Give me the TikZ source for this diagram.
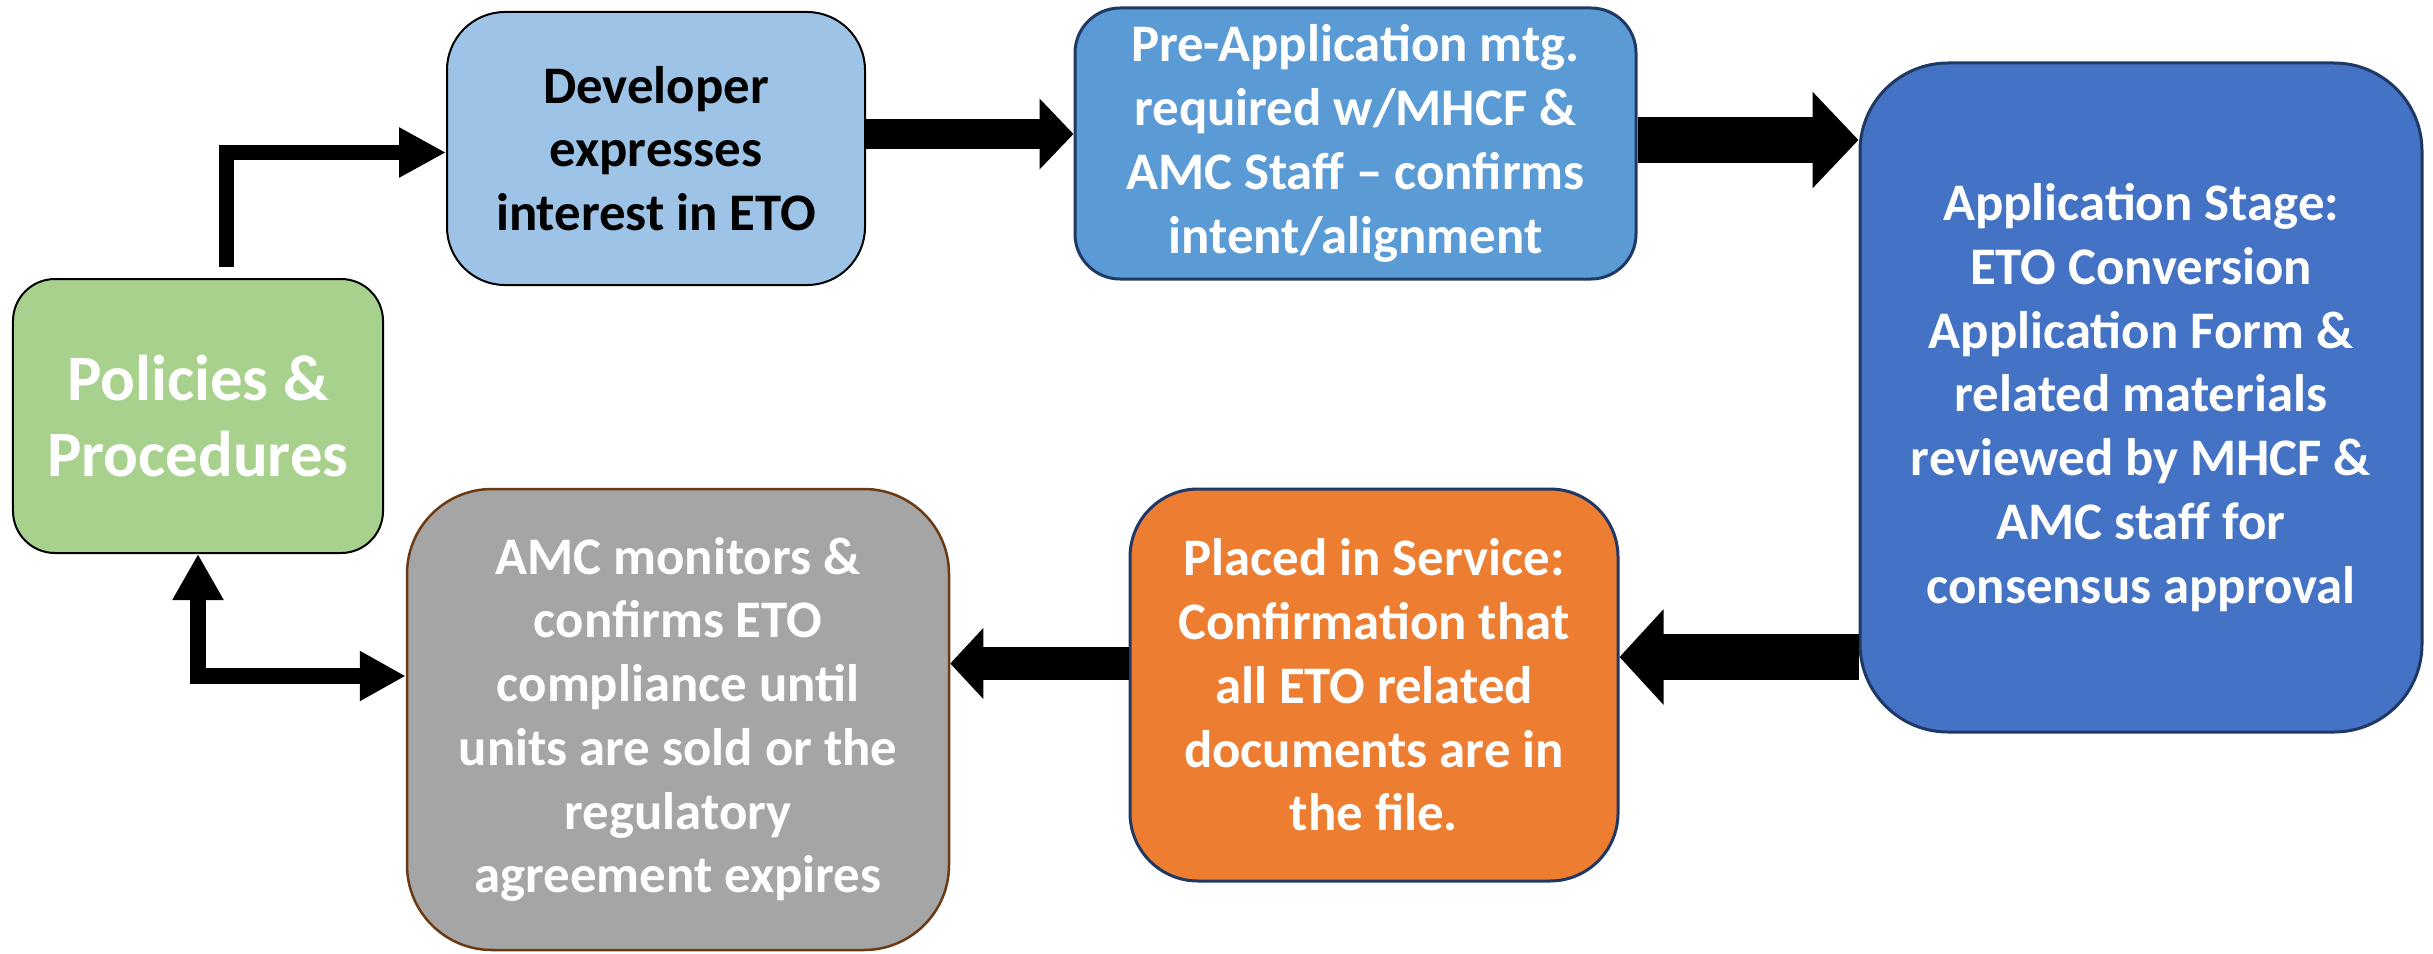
\documentclass[tikz,border=0pt]{standalone}
\usepackage{fontspec}
\setmainfont{Carlito}
\usetikzlibrary{arrows.meta,calc}
\definecolor{devfill}{HTML}{9DC3E6}
\definecolor{prefill}{HTML}{5B9BD5}
\definecolor{appfill}{HTML}{4472C4}
\definecolor{orfill}{HTML}{ED7D31}
\definecolor{grfill}{HTML}{A5A5A5}
\definecolor{gnfill}{HTML}{A9D18E}
\definecolor{navyline}{HTML}{203864}
\definecolor{brownline}{HTML}{6B3A12}
\begin{document}
\begin{tikzpicture}[x=1bp,y=-1bp,
  stage/.style={draw, align=center, inner sep=0pt, text=white,
    font=\bfseries\fontsize{53}{64}\selectfont},
  flow/.style={draw=black, line join=miter}]
\useasboundingbox (0,0) rectangle (2433,953);

\node[stage, fill=gnfill, draw=black, line width=2bp, rounded corners=42bp,
  minimum width=370bp, minimum height=274bp,
  font=\bfseries\fontsize{65}{76}\selectfont] (pol) at (198,416)
  {Policies \&\\Procedures};

\node[stage, fill=devfill, draw=black, line width=2bp, text=black, rounded corners=58bp,
  minimum width=418bp, minimum height=273bp] (dev) at (656,148.5)
  {Developer\\expresses\\interest in ETO};

\node[stage, fill=prefill, draw=navyline, line width=3bp, rounded corners=45bp,
  minimum width=561bp, minimum height=271bp] (pre) at (1355.5,143.5)
  {Pre-Application mtg.\\required w/MHCF \&\\AMC Staff – confirms\\intent/alignment};

\node[stage, fill=appfill, draw=navyline, line width=3bp, rounded corners=88bp,
  minimum width=562bp, minimum height=669bp] (app) at (2141,397.5)
  {Application Stage:\\ETO Conversion\\Application Form \&\\related materials\\reviewed by MHCF \&\\AMC staff for\\consensus approval};

\node[stage, fill=orfill, draw=navyline, line width=3bp, rounded corners=68bp,
  minimum width=488bp, minimum height=392bp] (ord) at (1374,685)
  {Placed in Service:\\Confirmation that\\all ETO related\\documents are in\\the file.};

\node[stage, fill=grfill, draw=brownline, line width=2.5bp, rounded corners=85bp,
  minimum width=542bp, minimum height=461bp] (amc) at (678,719.5)
  {AMC monitors \&\\confirms ETO\\compliance until\\units are sold or the\\regulatory\\agreement expires};

\coordinate (r0) at (0,152.5);
\coordinate (r1) at (0,134);
\coordinate (r2) at (0,140);
\coordinate (r3) at (0,657);
\coordinate (r4) at (0,663.5);
\coordinate (r5) at (0,676);

\draw[flow, line width=15bp, -{Triangle[length=47bp,width=47bp]}]
  ($(pol.north)+(28,-11)$) |- (dev.west |- r0);
\draw[flow, line width=30bp, -{Triangle[length=34bp,width=69bp]}]
  (dev.east |- r1) -- (pre.west |- r1);
\draw[flow, line width=46bp, -{Triangle[length=46bp,width=94bp]}]
  (pre.east |- r2) -- (app.west |- r2);
\draw[flow, line width=46bp, -{Triangle[length=44bp,width=93bp]}]
  (app.west |- r3) -- (ord.east |- r3);
\draw[flow, line width=33bp, -{Triangle[length=33bp,width=69bp]}]
  (ord.west |- r4) -- (amc.east |- r4);
\draw[flow, line width=16bp, {Triangle[length=46bp,width=47bp]}-{Triangle[length=46bp,width=48bp]}]
  (amc.west |- r5) -| (pol.south);
\end{tikzpicture}
\end{document}
